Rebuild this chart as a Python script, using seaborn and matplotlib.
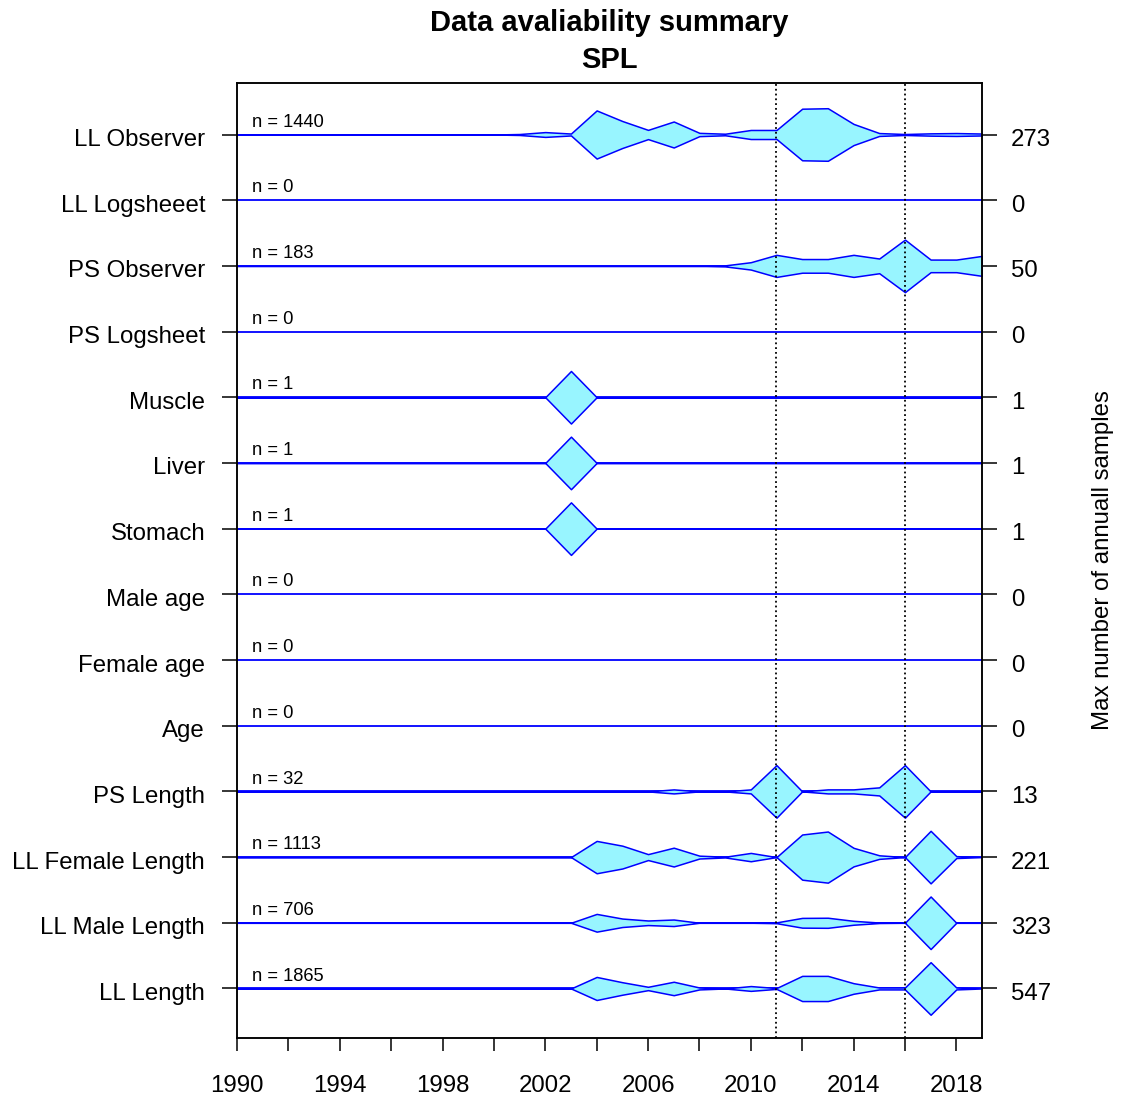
import numpy as np
import matplotlib
matplotlib.use("Agg")
import matplotlib.pyplot as plt
import matplotlib.transforms as mtransforms
import seaborn as sns

# ---- data (top row first) ----
ROWS = ["LL Observer", "LL Logsheeet", "PS Observer", "PS Logsheet",
        "Muscle", "Liver", "Stomach", "Male age", "Female age", "Age",
        "PS Length", "LL Female Length", "LL Male Length", "LL Length"]

# annual sample counts for 2001..2019 (1990-2000 are all empty)
YEARS = list(range(2001, 2020))
ll_observer = [5, 25, 10, 250, 140, 48, 135, 17, 8, 47, 47, 268, 273, 110, 15, 5, 12, 15, 10]
ll_logsheet = [0] * 19
ps_observer = [0, 0, 0, 0, 0, 0, 0, 0, 1, 7, 21, 13, 13, 21, 14, 50, 12, 12, 19]
ps_logsheet = [0] * 19
muscle = [0, 0, 1, 0, 0, 0, 0, 0, 0, 0, 0, 0, 0, 0, 0, 0, 0, 0, 0]
liver = [0, 0, 1, 0, 0, 0, 0, 0, 0, 0, 0, 0, 0, 0, 0, 0, 0, 0, 0]
stomach = [0, 0, 1, 0, 0, 0, 0, 0, 0, 0, 0, 0, 0, 0, 0, 0, 0, 0, 0]
male_age = [0] * 19
female_age = [0] * 19
age = [0] * 19
ps_length = [0, 0, 0, 0, 0, 0, 1, 0, 0, 1, 13, 0, 1, 1, 2, 13, 0, 0, 0]
ll_female_length = [0, 0, 0, 136, 96, 25, 79, 12, 3, 35, 0, 190, 215, 78, 15, 0, 221, 8, 0]
ll_male_length = [0, 0, 0, 109, 52, 28, 40, 0, 0, 0, 5, 60, 62, 24, 3, 0, 323, 0, 0]
ll_length = [0, 0, 0, 240, 130, 35, 140, 20, 0, 50, 9, 262, 262, 110, 20, 20, 547, 20, 0]

COUNTS = [ll_observer, ll_logsheet, ps_observer, ps_logsheet, muscle, liver,
          stomach, male_age, female_age, age, ps_length, ll_female_length,
          ll_male_length, ll_length]

N_TOTAL = [1440, 0, 183, 0, 1, 1, 1, 0, 0, 0, 32, 1113, 706, 1865]
MAX_ANNUAL = [273, 0, 50, 0, 1, 1, 1, 0, 0, 0, 13, 221, 323, 547]
REF_YEARS = [2011, 2016]

X_START, X_END = 1990, 2019
FILL = "#98F5FF"     # R cadetblue1
EDGE = "blue"

sns.set_theme(style="ticks")
plt.rcParams["font.family"] = ["Liberation Sans", "DejaVu Sans"]
plt.rcParams["text.color"] = "black"
plt.rcParams["axes.labelcolor"] = "black"

W, H = 1121, 1101
fig = plt.figure(figsize=(W / 100, H / 100), dpi=100)
ax = fig.add_axes([237 / W, 1 - 1038 / H, (982 - 237) / W, (1038 - 83) / H])

all_years = np.arange(X_START, X_END + 1)
pad = [0] * (YEARS[0] - X_START)

for i, (label, cnt) in enumerate(zip(ROWS, COUNTS)):
    c = np.array(pad + cnt, dtype=float)
    ax.hlines(i, X_START, X_END, color=EDGE, lw=1.3, zorder=2)
    peak = MAX_ANNUAL[i]
    if peak > 0:
        half = 0.4 * c / peak
        ax.fill_between(all_years, i - half, i + half, facecolor=FILL,
                        edgecolor=EDGE, lw=1.1, zorder=2)
    ax.text(1990.6, i - 0.12, f"n = {N_TOTAL[i]}", fontsize=13.2,
            ha="left", va="baseline", color="black")

for yr in REF_YEARS:
    ax.axvline(yr, color="black", ls=":", lw=1.3, zorder=3)

ylim = (13.754, -0.784)
ax.set_xlim(X_START, X_END)
ax.set_ylim(*ylim)

xt = list(range(1990, 2019, 2))
ax.set_xticks(xt)
ax.set_xticklabels([str(y) if (y - 1990) % 4 == 0 else "" for y in xt])
ax.set_yticks(range(len(ROWS)))
ax.set_yticklabels(ROWS)
ax.tick_params(axis="x", length=9.5, width=1.1, pad=17, labelsize=17.3,
               colors="black")
ax.tick_params(axis="y", length=11, width=1.1, pad=12, labelsize=17.3,
               colors="black")

# right-hand axis: max annual sample count for each row
ax2 = ax.twinx()
ax2.set_ylim(*ylim)
ax2.set_yticks(range(len(ROWS)))
ax2.set_yticklabels([str(m) for m in MAX_ANNUAL])
ax2.tick_params(axis="y", length=11, width=1.1, pad=10, labelsize=17.3,
                colors="black")

# R puts the row labels a touch below the tick
nudge = mtransforms.ScaledTranslation(0, -3 / 100, fig.dpi_scale_trans)
for lab in ax.get_yticklabels() + ax2.get_yticklabels():
    lab.set_transform(lab.get_transform() + nudge)

for a in (ax, ax2):
    for sp in a.spines.values():
        sp.set_color("black")
        sp.set_linewidth(1.1)

fig.text(1103 / W, 1 - 560 / H, "Max number of annuall samples", rotation=90,
         ha="center", va="center", fontsize=17.3, color="black")

cx = (237 + 982) / 2 / W
fig.text(cx, 1 - 31 / H, "Data avaliability summary", ha="center",
         va="baseline", fontsize=21, fontweight="bold", color="black")
fig.text(cx, 1 - 68 / H, "SPL", ha="center", va="baseline", fontsize=21,
         fontweight="bold", color="black")

fig.savefig("out.png", dpi=100)
